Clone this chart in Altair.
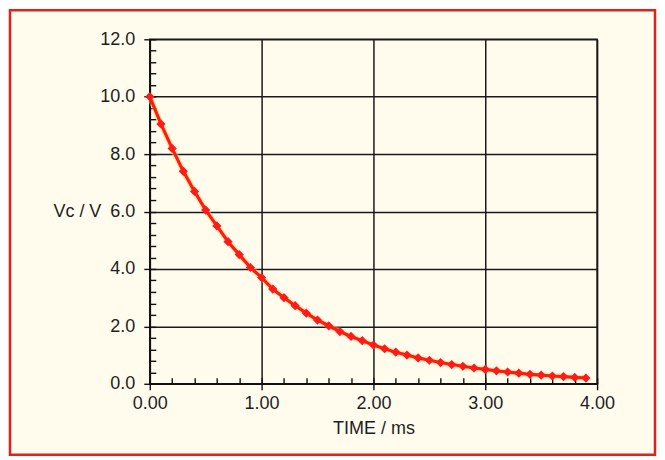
import altair as alt
import pandas as pd

# Data
time_ms = [0.0, 0.1, 0.2, 0.3, 0.4, 0.5, 0.6, 0.7, 0.8, 0.9,
           1.0, 1.1, 1.2, 1.3, 1.4, 1.5, 1.6, 1.7, 1.8, 1.9,
           2.0, 2.1, 2.2, 2.3, 2.4, 2.5, 2.6, 2.7, 2.8, 2.9,
           3.0, 3.1, 3.2, 3.3, 3.4, 3.5, 3.6, 3.7, 3.8, 3.9]
vc_volts = [10.0, 9.05, 8.2, 7.4, 6.7, 6.05, 5.5, 4.95, 4.5, 4.05,
            3.7, 3.3, 3.0, 2.72, 2.46, 2.22, 2.02, 1.82, 1.65, 1.5,
            1.35, 1.22, 1.1, 1.0, 0.9, 0.82, 0.74, 0.67, 0.61, 0.55,
            0.5, 0.45, 0.41, 0.37, 0.33, 0.3, 0.27, 0.25, 0.22, 0.2]

x_major = [0, 1, 2, 3, 4]
y_major = [0, 2, 4, 6, 8, 10, 12]
x_minor = [i / 5 for i in range(0, 21)]
y_minor = [i * 0.4 for i in range(0, 31)]

df = pd.DataFrame({"t": time_ms, "v": vc_volts})

W, H = 448, 345
PAD = {"left": 142, "top": 31, "right": 60, "bottom": 73}
FONT = "Liberation Sans"
TXT = "#1e1e1e"
FS = 18

xscale = alt.Scale(domain=[0, 4], nice=False)
yscale = alt.Scale(domain=[0, 12], nice=False)

x_main = alt.X("t:Q", scale=xscale, title="TIME / ms",
               axis=alt.Axis(values=x_major, format=".2f", grid=True,
                             gridColor="#1a1a1a", gridWidth=1.5,
                             domainColor="#111111", domainWidth=1.6,
                             tickColor="#111111", tickSize=6, tickWidth=1.4,
                             labelFont=FONT, labelFontSize=FS, labelColor=TXT,
                             labelFlush=False,
                             labelPadding=5, titleFont=FONT, titleFontSize=FS,
                             titleFontWeight="normal", titleColor=TXT,
                             titlePadding=7, orient="bottom"))
y_main = alt.Y("v:Q", scale=yscale, title="Vc / V",
               axis=alt.Axis(values=y_major, format=".1f", grid=True,
                             gridColor="#1a1a1a", gridWidth=1.5,
                             domainColor="#111111", domainWidth=1.6,
                             tickColor="#111111", tickSize=6, tickWidth=1.4,
                             labelFont=FONT, labelFontSize=FS, labelColor=TXT,
                             labelFlush=False,
                             labelPadding=9, titleFont=FONT, titleFontSize=FS,
                             titleFontWeight="normal", titleColor=TXT,
                             titleAngle=0, titleAlign="right",
                             titleBaseline="middle", titleX=-49,
                             titleY=H / 2, orient="left"))

x_plain = alt.X("t:Q", scale=xscale, axis=None)
y_plain = alt.Y("v:Q", scale=yscale, axis=None)

halo = alt.Chart(df).mark_line(color="#ffd84a", strokeWidth=6, opacity=0.45).encode(
    x=x_main, y=y_main)
line = alt.Chart(df).mark_line(color="#ff1a1a", strokeWidth=3.2).encode(
    x=x_plain, y=y_plain)
pts = alt.Chart(df).mark_point(shape="diamond", filled=True, size=85,
                               color="#ff1a1a", opacity=1).encode(
    x=x_plain, y=y_plain)

minor_x = alt.Chart(pd.DataFrame({"t": x_minor})).mark_point(opacity=0).encode(
    x=alt.X("t:Q", scale=xscale, title=None,
            axis=alt.Axis(values=x_minor, orient="bottom", offset=-6,
                          tickSize=6, tickWidth=1.4, tickColor="#111111",
                          labels=False, domain=False, grid=False)))
minor_y = alt.Chart(pd.DataFrame({"v": y_minor})).mark_point(opacity=0).encode(
    y=alt.Y("v:Q", scale=yscale, title=None,
            axis=alt.Axis(values=y_minor, orient="left", offset=-6,
                          tickSize=6, tickWidth=1.4, tickColor="#111111",
                          labels=False, domain=False, grid=False)))

frame = alt.Chart(pd.DataFrame({"a": [0]})).mark_rect(
    filled=False, stroke="#e02020", strokeWidth=2.5).encode(
    x=alt.value(-PAD["left"] + 2), x2=alt.value(W + PAD["right"] - 2),
    y=alt.value(-PAD["top"] + 2), y2=alt.value(H + PAD["bottom"] - 2))

chart = alt.layer(halo, line, pts, minor_x, minor_y, frame).resolve_axis(
    x="independent", y="independent"
).properties(
    width=W, height=H, padding=PAD,
    autosize=alt.AutoSizeParams(type="none"),
    background="#fffcee",
).configure_view(stroke="#111111", strokeWidth=1.5)

chart.save("out.html", embed_options={"renderer": "svg", "actions": False})
